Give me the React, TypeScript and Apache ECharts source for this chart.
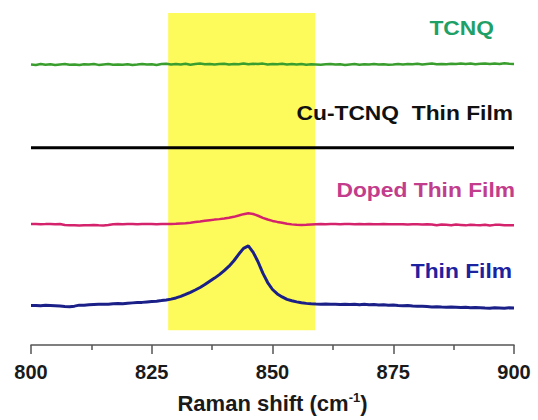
import { useEffect, useRef } from "react";
import * as echarts from "echarts";

// Raman shift sampling grid (cm^-1)
const SHIFT = [
  800, 801, 802, 803, 804, 805, 806, 807, 808, 809,
  810, 811, 812, 813, 814, 815, 816, 817, 818, 819,
  820, 821, 822, 823, 824, 825, 826, 827, 828, 829,
  830, 831, 832, 833, 834, 835, 836, 837, 838, 839,
  840, 841, 842, 843, 844, 845, 846, 847, 848, 849,
  850, 851, 852, 853, 854, 855, 856, 857, 858, 859,
  860, 861, 862, 863, 864, 865, 866, 867, 868, 869,
  870, 871, 872, 873, 874, 875, 876, 877, 878, 879,
  880, 881, 882, 883, 884, 885, 886, 887, 888, 889,
  890, 891, 892, 893, 894, 895, 896, 897, 898, 899,
  900,
];

// Offset intensities (arb. units, stacked)
const TCNQ = [
  283.0, 282.6, 283.4, 282.8, 283.3, 282.5, 283.1, 283.6, 282.7, 283.0,
  282.4, 283.2, 282.9, 283.5, 282.6, 283.0, 283.4, 282.7, 283.1, 282.8,
  283.3, 282.5, 283.0, 283.6, 282.9, 283.2, 282.6, 283.4, 283.8, 282.9,
  283.5, 283.1, 283.7, 282.8, 283.4, 283.9, 283.2, 283.6, 282.9, 283.5,
  283.8, 283.1, 283.6, 283.3, 284.0, 283.2, 283.7, 283.4, 283.9, 283.0,
  283.6, 283.3, 283.8, 283.1, 283.5, 283.0, 283.4, 282.8, 283.3, 283.0,
  282.7, 283.2, 283.5, 282.9, 283.3, 282.6, 283.1, 283.4, 282.8, 283.2,
  283.0, 283.5, 282.9, 283.3, 282.7, 283.1, 283.6, 283.0, 283.4, 283.2,
  283.7, 283.1, 283.5, 283.9, 283.3, 283.6, 283.2, 283.8, 283.4, 284.0,
  283.5, 283.9, 283.3, 283.7, 284.1, 283.5, 283.9, 283.6, 284.2, 283.8,
  283.6,
];

const CU_FILM_SHIFT = [800, 825, 850, 875, 900];
const CU_FILM = [199, 199, 199, 199, 199];

const DOPED = [
  122.0, 122.1, 121.9, 122.0, 122.2, 121.9, 122.0, 121.0, 120.7, 120.9,
  120.6, 120.9, 120.7, 121.1, 120.8, 120.6, 121.0, 121.8, 122.0, 121.9,
  122.1, 122.0, 121.9, 122.1, 122.0, 122.2, 121.9, 122.1, 122.0, 122.2,
  122.3, 122.6, 122.9, 123.4, 124.0, 124.6, 125.3, 125.9, 126.5, 127.0,
  127.6, 128.3, 129.3, 130.6, 132.0, 133.0, 132.2, 130.4, 128.3, 126.6,
  125.2, 124.2, 123.3, 122.4, 121.7, 121.3, 121.1, 121.3, 121.6, 121.9,
  122.0, 121.9, 122.1, 122.0, 121.8, 122.0, 122.1, 121.9, 122.0, 121.8,
  122.0, 121.9, 121.8, 122.0, 121.9, 121.7, 121.9, 121.8, 121.6, 121.8,
  121.7, 121.6, 121.8, 121.5, 120.9, 121.6, 121.2, 120.8, 121.5, 121.1,
  120.7, 121.4, 121.0, 120.8, 121.3, 120.6, 121.2, 121.4, 120.9, 120.8,
  120.7,
];

const THIN = [
  39.8, 39.9, 39.6, 40.0, 39.8, 39.6, 39.3, 38.8, 38.6, 39.2,
  40.2, 40.0, 40.5, 40.8, 41.0, 41.2, 41.0, 41.6, 41.9, 41.7,
  42.2, 42.5, 42.8, 43.0, 43.4, 43.8, 44.2, 44.8, 45.5, 46.3,
  47.5, 49.0, 51.0, 53.2, 55.5, 58.0, 61.0, 64.3, 67.5, 71.0,
  75.0, 79.5, 85.0, 91.5, 97.5, 100.0, 93.5, 84.0, 72.5, 63.0,
  56.0, 51.5, 48.5, 46.0, 44.6, 43.5, 42.6, 42.0, 41.6, 41.3,
  41.2, 41.4, 41.0, 41.2, 40.8, 41.1, 40.9, 41.2, 40.7, 41.0,
  40.6, 40.8, 40.3, 40.6, 40.1, 40.3, 39.9, 39.6, 39.8, 39.3,
  39.0, 39.2, 38.8, 38.4, 38.7, 38.3, 38.0, 38.4, 38.1, 37.8,
  38.0, 37.6, 37.9, 37.7, 37.3, 37.0, 37.6, 37.4, 37.2, 37.5,
  37.4,
];

// Highlighted shift window and its vertical extent
const BAND_SHIFT = [828.4, 858.8];
const BAND_LEVEL = [15, 335];

const X_MIN = 800;
const X_MAX = 900;
const X_STEP = 25;

const pair = (xs: number[], ys: number[]) => xs.map((x, i) => [x, ys[i]]);

const FONT = '"Liberation Sans", Arial, sans-serif';

function label(text: string, x: number, y: number, color: string) {
  return {
    type: "text",
    x,
    y,
    scaleX: 1.14,
    z: 10,
    style: {
      text,
      fill: color,
      fontFamily: FONT,
      fontWeight: "bold",
      fontSize: 20,
      align: "right",
      verticalAlign: "middle",
      textAlign: "right",
      textVerticalAlign: "middle",
    },
  };
}

export default function App() {
  const ref = useRef<HTMLDivElement>(null);

  useEffect(() => {
    if (!ref.current) return;
    const chart = echarts.init(ref.current, null, { renderer: "svg" });

    chart.setOption({
      animation: false,
      backgroundColor: "#ffffff",
      grid: { left: 31, right: 24, top: 8, bottom: 72 },
      xAxis: {
        type: "value",
        min: X_MIN,
        max: X_MAX,
        interval: X_STEP,
        axisLine: { show: true, lineStyle: { color: "#555555", width: 1.5 } },
        axisTick: { show: true, inside: false, length: 9, lineStyle: { color: "#555555", width: 1.5 } },
        minorTick: { show: true, splitNumber: 2, length: 5, lineStyle: { color: "#555555", width: 1.5 } },
        splitLine: { show: false },
        minorSplitLine: { show: false },
        axisLabel: {
          margin: 17,
          color: "#1a1a1a",
          fontFamily: FONT,
          fontWeight: "bold",
          fontSize: 20,
        },
        name: "Raman shift (cm{sup|-1})",
        nameLocation: "middle",
        nameGap: 46,
        nameTextStyle: {
          color: "#1a1a1a",
          fontFamily: FONT,
          fontWeight: "bold",
          fontSize: 22,
          lineHeight: 24,
          rich: {
            sup: {
              fontFamily: FONT,
              fontWeight: "bold",
              fontSize: 13,
              lineHeight: 24,
              verticalAlign: "top",
              padding: [0, 0, 11, 0],
              color: "#1a1a1a",
            },
          },
        },
      },
      yAxis: { type: "value", min: 0, max: 340, show: false },
      graphic: [
        label("TCNQ", 494, 28, "#1fa066"),
        label("Cu-TCNQ  Thin Film", 513, 113, "#111111"),
        label("Doped Thin Film", 515, 190, "#c23d8b"),
        label("Thin Film", 512, 271, "#1c22a0"),
      ],
      series: [
        {
          name: "band",
          type: "line",
          data: [],
          z: 1,
          silent: true,
          markArea: {
            silent: true,
            itemStyle: { color: "#fdfa5c" },
            data: [
              [
                { xAxis: BAND_SHIFT[0], yAxis: BAND_LEVEL[0] },
                { xAxis: BAND_SHIFT[1], yAxis: BAND_LEVEL[1] },
              ],
            ],
          },
        },
        {
          name: "TCNQ",
          type: "line",
          z: 3,
          symbol: "none",
          data: pair(SHIFT, TCNQ),
          lineStyle: { color: "#3a9e2e", width: 2.5 },
        },
        {
          name: "Cu-TCNQ Thin Film",
          type: "line",
          z: 3,
          symbol: "none",
          data: pair(CU_FILM_SHIFT, CU_FILM),
          lineStyle: { color: "#000000", width: 3 },
        },
        {
          name: "Doped Thin Film",
          type: "line",
          z: 3,
          symbol: "none",
          data: pair(SHIFT, DOPED),
          lineStyle: { color: "#d4236c", width: 2.5 },
        },
        {
          name: "Thin Film",
          type: "line",
          z: 3,
          symbol: "none",
          data: pair(SHIFT, THIN),
          lineStyle: { color: "#1a2088", width: 3 },
        },
      ],
    });

    return () => chart.dispose();
  }, []);

  return (
    <div
      ref={ref}
      style={{ position: "fixed", left: 0, top: 0, width: 538, height: 420, background: "#fff" }}
    />
  );
}
